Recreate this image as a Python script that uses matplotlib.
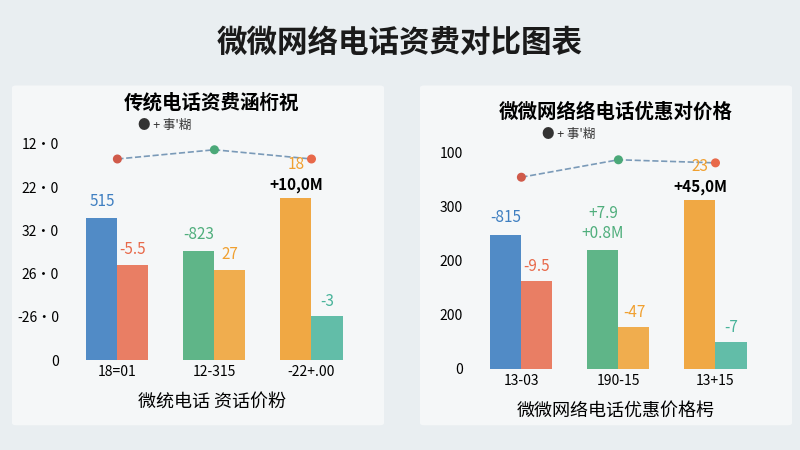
import matplotlib
matplotlib.use("Agg")
import matplotlib.pyplot as plt
from matplotlib.patches import FancyBboxPatch

plt.rcParams['font.family'] = ['Noto Sans CJK SC', 'DejaVu Sans']

title = "微微网络电话资费对比图表"
# left panel
l_title = "传统电话资费涵桁祝"
l_cats = ["18=01", "12-315", "-22+.00"]
l_ticks = ["0", "-26·0", "26·0", "32·0", "22·0", "12·0"]
l_bar1 = [138, 106, 158]      # blue, green, orange
l_bar2 = [93, 88, 43]         # orange, orange, teal
l_lab1 = ["515", "-823", "18"]
l_lab2 = ["-5.5", "27", "-3"]
l_line = [196, 205, 196]
# right panel
r_title = "微微网络络电话优惠对价格"
r_cats = ["13-03", "190-15", "13+15"]
r_ticks = ["0", "200", "200", "300", "100"]
r_bar1 = [131, 116, 165]
r_bar2 = [86, 41, 26]
r_lab1 = ["-815", "+7.9\n+0.8M", "23"]
r_lab2 = ["-9.5", "-47", "-7"]
r_line = [187, 204, 201]

blue, orange, green, teal = "#3f7fc1", "#e8694a", "#4fae7c", "#48b39a"
org2 = "#f0a030"

fig = plt.figure(figsize=(8, 4.5), dpi=100)
fig.patch.set_facecolor("#e9eef1")
fig.text(0.5, 0.905, title, ha="center", va="center", fontsize=22, fontweight="bold", color="#1a1a1a")

for x0 in [0.02, 0.53]:
    p = FancyBboxPatch((x0, 0.06), 0.455, 0.745, boxstyle="round,pad=0.005",
                       transform=fig.transFigure, fc="white", ec="none", alpha=0.55, zorder=-5)
    fig.patches.append(p)

def panel(rect, ttl, cats, ticks, b1, b2, c1, c2, lab1, lab2, line, xl, extra):
    ax = fig.add_axes(rect)
    ax.set_facecolor("none")
    x = [0, 1, 2]
    w = 0.32
    ax.bar([i - w / 2 for i in x], b1, w, color=c1, alpha=0.9)
    ax.bar([i + w / 2 for i in x], b2, w, color=c2, alpha=0.85)
    for i in x:
        yy = b1[i] + 12 if i < 2 else b1[i] + 28
        ax.text(i - w / 2, yy, lab1[i], ha="center", color=c1[i], fontsize=11)
        ax.text(i + w / 2, b2[i] + 10, lab2[i], ha="center", color=c2[i], fontsize=11)
    ax.plot(x, line, "--", color="#7a9ab8", lw=1.2)
    ax.scatter(x, line, color=["#d05a4a", "#4aa878", "#e8694a"], s=30, zorder=3)
    ax.text(2 - w / 2, b1[2] + 8, extra, ha="center", fontsize=11, fontweight="bold")
    ax.set_xticks(x)
    ax.set_xticklabels(cats, fontsize=10)
    ax.set_ylim(0, 215)
    ax.set_xlim(-0.55, 2.5)
    ax.set_yticks([i * 215 / (len(ticks) - 1) * 0.98 for i in range(len(ticks))])
    ax.set_yticklabels(ticks, fontsize=10)
    ax.tick_params(length=0)
    for s in ax.spines.values():
        s.set_visible(False)
    ax.set_xlabel(xl, fontsize=13, labelpad=10)
    ax.set_title(ttl, fontsize=14, fontweight="bold", pad=22)
    ax.text(0.25, 1.05, "● + 事'糊", transform=ax.transAxes, fontsize=9, color="#333")
    return ax

panel([0.08, 0.2, 0.37, 0.49], l_title, l_cats, l_ticks, l_bar1, l_bar2,
      [blue, green, org2], [orange, org2, teal], l_lab1, l_lab2, l_line,
      "微统电话 资话价粉", "+10,0M")
panel([0.585, 0.18, 0.37, 0.49], r_title, r_cats, r_ticks, r_bar1, r_bar2,
      [blue, green, org2], [orange, org2, teal], r_lab1, r_lab2, r_line,
      "微微网络电话优惠价格枵", "+45,0M")

fig.savefig("out.png", dpi=100, facecolor=fig.get_facecolor())
